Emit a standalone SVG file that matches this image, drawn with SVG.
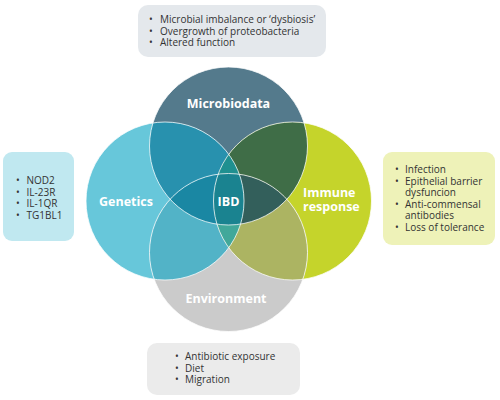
<svg xmlns="http://www.w3.org/2000/svg" width="500" height="400" viewBox="0 0 500 400">
<style>
.lbl{font-family:"Open Sans","DejaVu Sans",sans-serif;font-weight:700;font-size:12.5px;fill:#ffffff}
.txt{font-family:"Open Sans","DejaVu Sans",sans-serif;font-size:10px;fill:#333333}
.ring{fill:none;stroke:#ffffff;stroke-opacity:0.75;stroke-width:1}
</style>
<defs>
<circle id="cT" cx="228.5" cy="146" r="79"/>
<circle id="cL" cx="165" cy="201" r="79"/>
<circle id="cR" cx="292.5" cy="201" r="79"/>
<circle id="cB" cx="228.5" cy="252.5" r="79"/>
<clipPath id="kT"><use href="#cT"/></clipPath>
<clipPath id="kL"><use href="#cL"/></clipPath>
<clipPath id="kR"><use href="#cR"/></clipPath>
<clipPath id="kB"><use href="#cB"/></clipPath>
</defs>

<g id="box-microbiodata">
<rect x="138" y="5" width="188" height="52" rx="10" fill="#e4e8ec"/>
<text class="txt" x="149" y="23">•</text><text class="txt" x="160" y="23">Microbial imbalance or ‘dysbiosis’</text>
<text class="txt" x="149" y="34.7">•</text><text class="txt" x="160" y="34.7">Overgrowth of proteobacteria</text>
<text class="txt" x="149" y="46.4">•</text><text class="txt" x="160" y="46.4">Altered function</text>
</g>
<g id="box-genetics">
<rect x="3" y="152" width="71" height="89" rx="9" fill="#c0e8f0"/>
<text class="txt" x="16" y="184">•</text><text class="txt" x="26.5" y="184">NOD2</text>
<text class="txt" x="16" y="195.5">•</text><text class="txt" x="26.5" y="195.5">IL-23R</text>
<text class="txt" x="16" y="207">•</text><text class="txt" x="26.5" y="207">IL-1QR</text>
<text class="txt" x="16" y="218.5">•</text><text class="txt" x="26.5" y="218.5">TG1BL1</text>
</g>
<g id="box-immune">
<rect x="383" y="152" width="112" height="93" rx="9" fill="#eef2b8"/>
<text class="txt" x="395" y="173">•</text><text class="txt" x="405" y="173">Infection</text>
<text class="txt" x="395" y="184.6">•</text><text class="txt" x="405" y="184.6">Epithelial barrier</text>
<text class="txt" x="405" y="196.2">dysfuncion</text>
<text class="txt" x="395" y="207.8">•</text><text class="txt" x="405" y="207.8">Anti-commensal</text>
<text class="txt" x="405" y="219.4">antibodies</text>
<text class="txt" x="395" y="231">•</text><text class="txt" x="405" y="231">Loss of tolerance</text>
</g>
<g id="box-environment">
<rect x="147" y="343" width="153" height="52" rx="10" fill="#ebebeb"/>
<text class="txt" x="175" y="360">•</text><text class="txt" x="185" y="360">Antibiotic exposure</text>
<text class="txt" x="175" y="371.6">•</text><text class="txt" x="185" y="371.6">Diet</text>
<text class="txt" x="175" y="383.2">•</text><text class="txt" x="185" y="383.2">Migration</text>
</g>

<g id="venn">
<g id="node-microbiodata"><use href="#cT" fill="#547a8c"/></g>
<g id="node-genetics"><use href="#cL" fill="#67c7da"/></g>
<g id="node-immune"><use href="#cR" fill="#c5d42b"/></g>
<g id="node-environment"><use href="#cB" fill="#cbcbcb"/></g>
<g id="overlaps">
<use href="#cL" fill="#2891ae" clip-path="url(#kT)"/>
<use href="#cR" fill="#3f6d47" clip-path="url(#kT)"/>
<use href="#cL" fill="#52b3c7" clip-path="url(#kB)"/>
<use href="#cR" fill="#acb462" clip-path="url(#kB)"/>
<g clip-path="url(#kT)"><use href="#cL" fill="#1f9090" clip-path="url(#kR)"/></g>
<g clip-path="url(#kT)"><use href="#cL" fill="#1a87a3" clip-path="url(#kB)"/></g>
<g clip-path="url(#kT)"><use href="#cR" fill="#335f5b" clip-path="url(#kB)"/></g>
<g clip-path="url(#kB)"><use href="#cL" fill="#41a89a" clip-path="url(#kR)"/></g>
<g clip-path="url(#kT)"><g clip-path="url(#kB)"><use href="#cL" fill="#1a8390" clip-path="url(#kR)"/></g></g>
</g>
<g id="outlines">
<use href="#cT" class="ring"/>
<use href="#cL" class="ring"/>
<use href="#cR" class="ring"/>
<use href="#cB" class="ring"/>
</g>
<text class="lbl" x="228.5" y="107.5" text-anchor="middle">Microbiodata</text>
<text class="lbl" x="126" y="206" text-anchor="middle">Genetics</text>
<text class="lbl" x="303" y="196.5">Immune</text>
<text class="lbl" x="303" y="211">response</text>
<text class="lbl" x="226" y="303" text-anchor="middle">Environment</text>
<text class="lbl" x="228.5" y="205.5" text-anchor="middle">IBD</text>
</g>
<g id="connectors"/>
</svg>
